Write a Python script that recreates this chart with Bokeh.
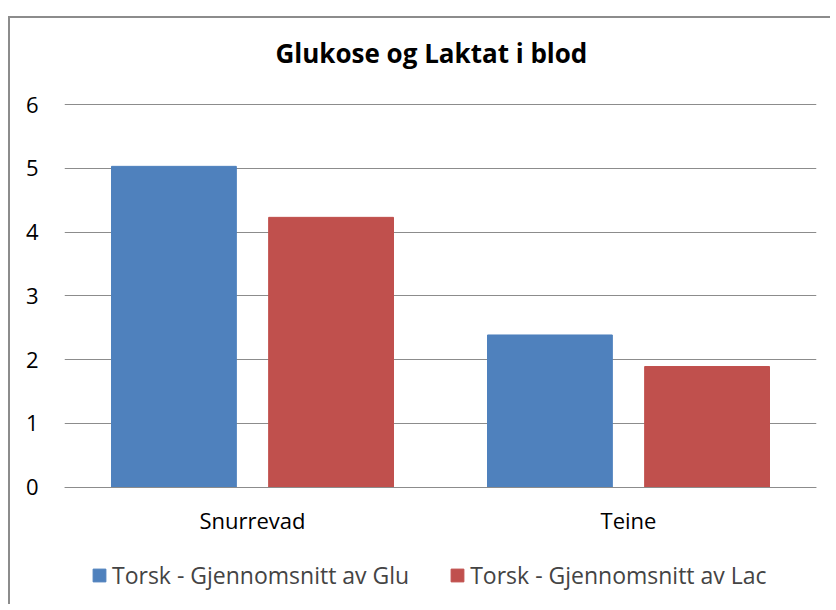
from bokeh.plotting import figure
from bokeh.models import ColumnDataSource, FactorRange, Range1d, Legend, LegendItem, Title
from bokeh.transform import dodge
from bokeh.embed import file_html
from bokeh.resources import INLINE

categories = ["Snurrevad", "Teine"]
glu = [5.03, 2.385]
lac = [4.23, 1.89]
series_names = ["Torsk - Gjennomsnitt av Glu", "Torsk - Gjennomsnitt av Lac"]
y_ticks = [0, 1, 2, 3, 4, 5, 6]
title_text = "Glukose og Laktat i blod"

FONT = "Open Sans"
BLUE = "#4f81bd"
RED = "#c0504d"

source = ColumnDataSource(data=dict(cat=categories, glu=glu, lac=lac))

# frame extends below the zero line so that the legend fits inside it
p = figure(
    width=830, height=604,
    x_range=FactorRange(factors=categories, range_padding=0),
    y_range=Range1d(-1.843, 6.016),
    output_backend="svg", toolbar_location=None,
    min_border_left=64, min_border_right=14, min_border_top=103, min_border_bottom=0,
)
# chart-area border (left and top edges) drawn as the element's background,
# seen through the transparent canvas
p.styles = {
    "background-color": "white",
    "background-image": "linear-gradient(#8c8c8c, #8c8c8c), linear-gradient(#8c8c8c, #8c8c8c)",
    "background-position": "8px 16px, 8px 16px",
    "background-size": "100% 2px, 2px 100%",
    "background-repeat": "no-repeat",
}

p.title = Title(text=title_text, align="left", offset=211, text_font=FONT, text_font_size="26px",
                text_font_style="bold", text_color="#000000", standoff=65)

r1 = p.vbar(x=dodge("cat", -0.209, range=p.x_range), top="glu", width=0.332, source=source,
            fill_color=BLUE, line_color=BLUE)
r2 = p.vbar(x=dodge("cat", 0.209, range=p.x_range), top="lac", width=0.332, source=source,
            fill_color=RED, line_color=RED)

p.outline_line_color = None
p.background_fill_color = None
p.border_fill_color = None

p.xgrid.grid_line_color = None
p.ygrid.grid_line_color = "#8c8c8c"
p.ygrid.grid_line_width = 1

p.yaxis.ticker = y_ticks
p.yaxis.axis_line_color = None
p.yaxis.major_tick_line_color = None
p.yaxis.minor_tick_line_color = None
p.yaxis.major_tick_out = 0
p.yaxis.major_tick_in = 0
p.yaxis.major_label_standoff = 26
p.yaxis.major_label_text_font = FONT
p.yaxis.major_label_text_font_size = "22px"
p.yaxis.major_label_text_color = "#000000"

p.xaxis.fixed_location = 0
p.xaxis.axis_line_color = "#8c8c8c"
p.xaxis.major_tick_line_color = None
p.xaxis.minor_tick_line_color = None
p.xaxis.major_tick_out = 0
p.xaxis.major_tick_in = 0
p.xaxis.major_label_standoff = 18
p.xaxis.major_label_text_font = FONT
p.xaxis.major_label_text_font_size = "22px"
p.xaxis.major_label_text_color = "#000000"

legend = Legend(items=[LegendItem(label=series_names[0], renderers=[r1]),
                       LegendItem(label=series_names[1], renderers=[r2])],
                orientation="horizontal", location=(27, 13),
                label_text_font=FONT, label_text_font_size="23px",
                glyph_width=16, glyph_height=16, label_standoff=5, spacing=40,
                border_line_color=None, background_fill_alpha=0, margin=0, padding=0)
p.add_layout(legend, "center")

open("out.html", "w").write(file_html(p, INLINE))
